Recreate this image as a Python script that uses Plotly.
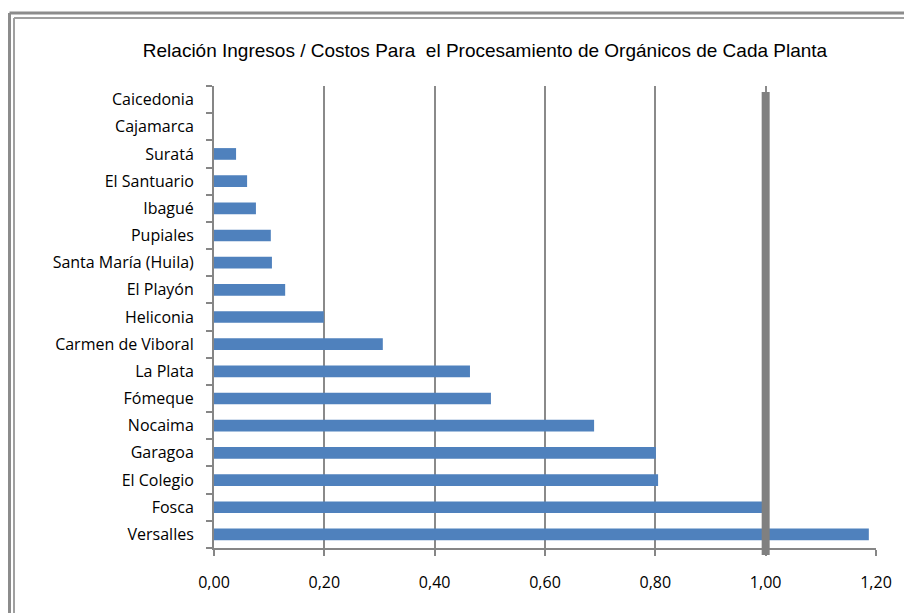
import plotly.graph_objects as go

# Plants listed bottom to top as they appear on the vertical axis
plantas = [
    "Versalles", "Fosca", "El Colegio", "Garagoa", "Nocaima", "Fómeque",
    "La Plata", "Carmen de Viboral", "Heliconia", "El Playón",
    "Santa María (Huila)", "Pupiales", "Ibagué", "El Santuario", "Suratá",
    "Cajamarca", "Caicedonia",
]
relacion = [
    1.187, 0.995, 0.805, 0.801, 0.689, 0.502,
    0.464, 0.306, 0.199, 0.129,
    0.105, 0.103, 0.076, 0.060, 0.040,
    0.0, 0.0,
]
tick_vals = [0.0, 0.2, 0.4, 0.6, 0.8, 1.0, 1.2]
tick_text = ["0,00", "0,20", "0,40", "0,60", "0,80", "1,00", "1,20"]
equilibrio = 1.0

W, H = 904, 613
L, R, T, B = 214, 28, 86, 65
pw, ph = W - L - R, H - T - B

def px_x(px):
    return (px - L) / pw

def px_y(py):
    return (H - B - py) / ph

fig = go.Figure(
    go.Bar(
        x=relacion,
        y=plantas,
        orientation="h",
        marker=dict(color="#4F81BD", line=dict(width=0)),
        hoverinfo="x+y",
    )
)

shapes = [
    # break-even reference line at ratio 1
    dict(type="line", xref="x", yref="paper", x0=equilibrio, x1=equilibrio,
         y0=-0.015, y1=0.987, line=dict(color="#808080", width=8), layer="above"),
    # double frame around the chart
    dict(type="line", xref="paper", yref="paper", x0=px_x(9.5), x1=px_x(910),
         y0=px_y(13), y1=px_y(13), line=dict(color="#8c8c8c", width=3)),
    dict(type="line", xref="paper", yref="paper", x0=px_x(14), x1=px_x(910),
         y0=px_y(18), y1=px_y(18), line=dict(color="#a0a0a0", width=2)),
    dict(type="line", xref="paper", yref="paper", x0=px_x(9.5), x1=px_x(9.5),
         y0=px_y(13), y1=px_y(620), line=dict(color="#8c8c8c", width=3)),
    dict(type="line", xref="paper", yref="paper", x0=px_x(14), x1=px_x(14),
         y0=px_y(18), y1=px_y(620), line=dict(color="#a0a0a0", width=2)),
]

tick_font = dict(family="Open Sans, Lato, sans-serif", size=16, color="#000000")

fig.update_layout(
    width=W, height=H,
    margin=dict(l=L, r=R, t=T, b=B),
    paper_bgcolor="white", plot_bgcolor="white",
    showlegend=False,
    bargap=0.57,
    shapes=shapes,
    title=dict(
        text="Relación Ingresos / Costos Para  el Procesamiento de Orgánicos de Cada Planta",
        x=px_x(485), xref="paper", xanchor="center",
        y=1 - 50 / H, yanchor="middle",
        font=dict(family="Liberation Sans Narrow, Arial Narrow, sans-serif", size=19, color="#000000"),
    ),
    xaxis=dict(
        range=[0, 1.2],
        tickvals=tick_vals, ticktext=tick_text,
        showgrid=True, gridcolor="#8a8a8a", gridwidth=1.5,
        showline=True, linecolor="#868686", linewidth=2,
        ticks="outside", ticklen=6, tickcolor="#868686", tickwidth=1.5,
        ticklabelstandoff=13,
        tickfont=tick_font,
        zeroline=False, fixedrange=True,
    ),
    yaxis=dict(
        type="category",
        categoryorder="array", categoryarray=plantas,
        showline=True, linecolor="#868686", linewidth=2,
        ticks="outside", ticklen=6, tickcolor="#868686", tickwidth=1.5,
        tickson="boundaries",
        ticklabelstandoff=15,
        tickfont=tick_font,
        showgrid=False, fixedrange=True,
    ),
)

fig.write_html("out.html")
